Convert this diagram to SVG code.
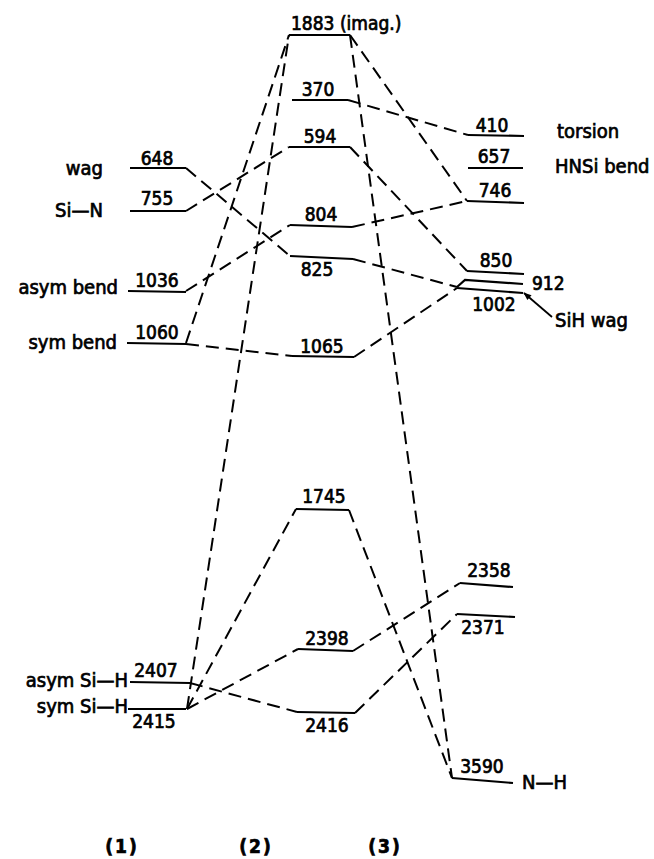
<svg xmlns="http://www.w3.org/2000/svg" width="654" height="859" viewBox="0 0 654 859">
<style>
text{font-family:"DejaVu Sans Condensed","Liberation Sans",sans-serif;font-size:19px;fill:#000;stroke:#000;stroke-width:0.7}
.w{font-size:20px}
.n{text-anchor:middle}
.e{text-anchor:end}
.c{font-weight:bold;letter-spacing:2px}
.lv{stroke:#000;stroke-width:2.2;fill:none}
.cn{stroke:#000;stroke-width:2;fill:none;stroke-dasharray:13 7}
</style>
<defs>
<marker id="ah" viewBox="0 0 10 10" refX="9" refY="5" markerWidth="9" markerHeight="8" orient="auto" markerUnits="userSpaceOnUse">
<path d="M0,1 L10,5 L0,9 z" fill="#000"/>
</marker>
</defs>
<rect width="654" height="859" fill="#fff"/>
<g id="connectors">
<line class="cn" x1="186" y1="168" x2="290" y2="256"/>
<line class="cn" x1="186" y1="211" x2="289" y2="147"/>
<line class="cn" x1="186" y1="291" x2="290" y2="225"/>
<line class="cn" x1="186" y1="343" x2="289" y2="35"/>
<line class="cn" x1="186" y1="344" x2="292" y2="356"/>
<line class="cn" x1="187" y1="709" x2="289" y2="35"/>
<line class="cn" x1="187" y1="709" x2="296" y2="509"/>
<line class="cn" x1="187" y1="709" x2="298" y2="649"/>
<line class="cn" x1="190" y1="683" x2="297" y2="712"/>
<line class="cn" x1="350" y1="35" x2="467" y2="201"/>
<line class="cn" x1="350" y1="35" x2="452" y2="778"/>
<line class="cn" x1="348" y1="100" x2="468" y2="135"/>
<line class="cn" x1="350" y1="147" x2="467" y2="271"/>
<line class="cn" x1="352" y1="227" x2="467" y2="201"/>
<line class="cn" x1="353" y1="259" x2="457" y2="287"/>
<line class="cn" x1="354" y1="357" x2="457" y2="288"/>
<line class="cn" x1="349" y1="510" x2="452" y2="778"/>
<line class="cn" x1="353" y1="651" x2="460" y2="583"/>
<line class="cn" x1="355" y1="713" x2="457" y2="614"/>
<line stroke="#000" stroke-width="1.8" x1="552" y1="317" x2="524" y2="293" marker-end="url(#ah)"/>
</g>
<g id="col1">
<g id="n648"><line class="lv" x1="130" y1="168" x2="186" y2="168"/><text class="n" x="157" y="165">648</text><text class="e w" x="103" y="175">wag</text></g>
<g id="n755"><line class="lv" x1="130" y1="211" x2="186" y2="211"/><text class="n" x="157" y="205">755</text><text class="e w" x="103" y="217">Si—N</text></g>
<g id="n1036"><line class="lv" x1="128" y1="291" x2="186" y2="292"/><text class="n" x="157" y="287">1036</text><text class="e w" x="118" y="294">asym  bend</text></g>
<g id="n1060"><line class="lv" x1="127" y1="343" x2="186" y2="344"/><text class="n" x="157" y="339">1060</text><text class="e w" x="117" y="349">sym  bend</text></g>
<g id="n2407"><line class="lv" x1="130" y1="682" x2="190" y2="683"/><text class="n" x="156" y="677">2407</text><text class="e w" x="128" y="687">asym Si—H</text></g>
<g id="n2415"><line class="lv" x1="128" y1="709" x2="186" y2="709"/><text class="n" x="154" y="728">2415</text><text class="e w" x="128" y="713">sym Si—H</text></g>
</g>
<g id="col2">
<g id="n1883"><line class="lv" x1="289" y1="35" x2="350" y2="35"/><text x="291" y="30">1883 (imag.)</text></g>
<g id="n370"><line class="lv" x1="292" y1="100" x2="348" y2="100"/><text class="n" x="318" y="96">370</text></g>
<g id="n594"><line class="lv" x1="289" y1="147" x2="350" y2="147"/><text class="n" x="320" y="143">594</text></g>
<g id="n804"><line class="lv" x1="290" y1="225" x2="352" y2="227"/><text class="n" x="321" y="221">804</text></g>
<g id="n825"><line class="lv" x1="290" y1="256" x2="353" y2="259"/><text class="n" x="317" y="276">825</text></g>
<g id="n1065"><line class="lv" x1="292" y1="356" x2="354" y2="357"/><text class="n" x="322" y="353">1065</text></g>
<g id="n1745"><line class="lv" x1="296" y1="509" x2="349" y2="510"/><text class="n" x="324" y="503">1745</text></g>
<g id="n2398"><line class="lv" x1="298" y1="649" x2="353" y2="651"/><text class="n" x="327" y="645">2398</text></g>
<g id="n2416"><line class="lv" x1="297" y1="712" x2="355" y2="713"/><text class="n" x="327" y="732">2416</text></g>
</g>
<g id="col3">
<g id="n410"><line class="lv" x1="468" y1="135" x2="524" y2="136"/><text class="n" x="492" y="132">410</text><text class="w" x="557" y="138">torsion</text></g>
<g id="n657"><line class="lv" x1="468" y1="168" x2="523" y2="168"/><text class="n" x="494" y="163">657</text><text class="w" x="555" y="173">HNSi  bend</text></g>
<g id="n746"><line class="lv" x1="467" y1="201" x2="524" y2="203"/><text class="n" x="495" y="197">746</text></g>
<g id="n850"><line class="lv" x1="467" y1="271" x2="524" y2="274"/><text class="n" x="496" y="267">850</text></g>
<g id="n912"><polyline class="lv" points="457,287 465,280 523,284"/><text x="532" y="290">912</text></g>
<g id="n1002"><line class="lv" x1="457" y1="288" x2="523" y2="293"/><text class="n" x="494" y="311">1002</text><text class="w" x="555" y="327">SiH  wag</text></g>
<g id="n2358"><line class="lv" x1="460" y1="583" x2="513" y2="587"/><text class="n" x="489" y="577">2358</text></g>
<g id="n2371"><line class="lv" x1="457" y1="614" x2="515" y2="617"/><text class="n" x="483" y="634">2371</text></g>
<g id="n3590"><line class="lv" x1="452" y1="778" x2="513" y2="783"/><text class="n" x="482" y="773">3590</text><text class="w" x="522" y="789">N—H</text></g>
</g>
<g id="columns">
<text class="n c" x="122" y="853">(1)</text>
<text class="n c" x="256" y="853">(2)</text>
<text class="n c" x="385" y="853">(3)</text>
</g>
</svg>
